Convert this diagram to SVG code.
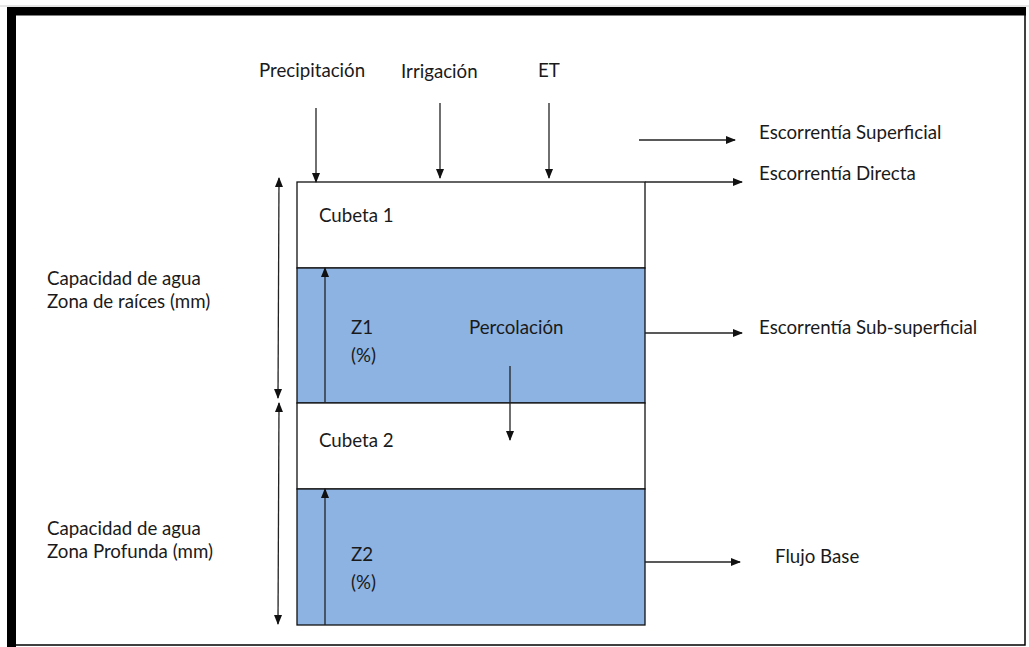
<svg xmlns="http://www.w3.org/2000/svg" width="1029" height="647" viewBox="0 0 1029 647">
<defs>
<marker id="ah" markerWidth="10" markerHeight="8" refX="9" refY="4" orient="auto" markerUnits="userSpaceOnUse"><path d="M0,0 L10,4 L0,8 Z" fill="#111"/></marker>
<marker id="ahs" markerWidth="10" markerHeight="8" refX="1" refY="4" orient="auto" markerUnits="userSpaceOnUse"><path d="M10,0 L0,4 L10,8 Z" fill="#111"/></marker>
<style>
text{font-family:Lato,"Open Sans","Liberation Sans",sans-serif;font-size:18.7px;fill:#1a1a1a}
.c{stroke:#222;stroke-width:1.3;fill:none}
.w{fill:#fff;stroke:#111;stroke-width:1.3}
.b{fill:#8db3e2;stroke:#111;stroke-width:1.3}
</style>
</defs>
<rect width="1029" height="647" fill="#fff"/>
<g id="frame">
<line x1="0" y1="6" x2="1029" y2="6" stroke="#ccc" stroke-width="1"/>
<rect x="11.5" y="11.5" width="1013.5" height="633.5" fill="none" stroke="#000" stroke-width="1.5"/>
<rect x="7" y="7" width="9" height="640" fill="#000"/>
<rect x="7" y="7" width="1019" height="8.5" fill="#000"/>
</g>
<g id="cubeta1"><rect class="w" x="297" y="182" width="348" height="86"/><text x="319" y="222">Cubeta 1</text></g>
<g id="z1"><rect class="b" x="297" y="268" width="348" height="135"/><text x="351" y="334">Z1</text><text x="351" y="362">(%)</text><text x="469" y="334">Percolación</text></g>
<g id="cubeta2"><rect class="w" x="297" y="403" width="348" height="86"/><text x="319" y="447">Cubeta 2</text></g>
<g id="z2"><rect class="b" x="297" y="489" width="348" height="136"/><text x="351" y="561">Z2</text><text x="351" y="589">(%)</text></g>
<g id="labels">
<text x="259" y="77">Precipitación</text>
<text x="401" y="78">Irrigación</text>
<text x="538" y="77">ET</text>
<text x="759" y="139">Escorrentía Superficial</text>
<text x="759" y="180">Escorrentía Directa</text>
<text x="759" y="334">Escorrentía Sub-superficial</text>
<text x="775" y="563">Flujo Base</text>
<text x="47" y="285">Capacidad de agua</text>
<text x="47" y="308">Zona de raíces (mm)</text>
<text x="47" y="535">Capacidad de agua</text>
<text x="47" y="558">Zona Profunda (mm)</text>
</g>
<g id="connectors">
<line class="c" x1="316" y1="108" x2="316" y2="182" marker-end="url(#ah)"/>
<line class="c" x1="440" y1="103" x2="440" y2="178" marker-end="url(#ah)"/>
<line class="c" x1="549" y1="103" x2="549" y2="178" marker-end="url(#ah)"/>
<line class="c" x1="639" y1="140" x2="735" y2="140" marker-end="url(#ah)"/>
<line class="c" x1="645" y1="182" x2="742" y2="182" marker-end="url(#ah)"/>
<line class="c" x1="645" y1="333" x2="742" y2="333" marker-end="url(#ah)"/>
<line class="c" x1="645" y1="562" x2="740" y2="562" marker-end="url(#ah)"/>
<line class="c" x1="510" y1="366" x2="510" y2="440" marker-end="url(#ah)"/>
<line class="c" x1="325" y1="403" x2="325" y2="268" marker-end="url(#ah)"/>
<line class="c" x1="325" y1="625" x2="325" y2="489" marker-end="url(#ah)"/>
<line class="c" x1="279" y1="178" x2="278" y2="398" marker-start="url(#ahs)" marker-end="url(#ah)"/>
<line class="c" x1="279" y1="403" x2="278" y2="624" marker-start="url(#ahs)" marker-end="url(#ah)"/>
</g>
</svg>
